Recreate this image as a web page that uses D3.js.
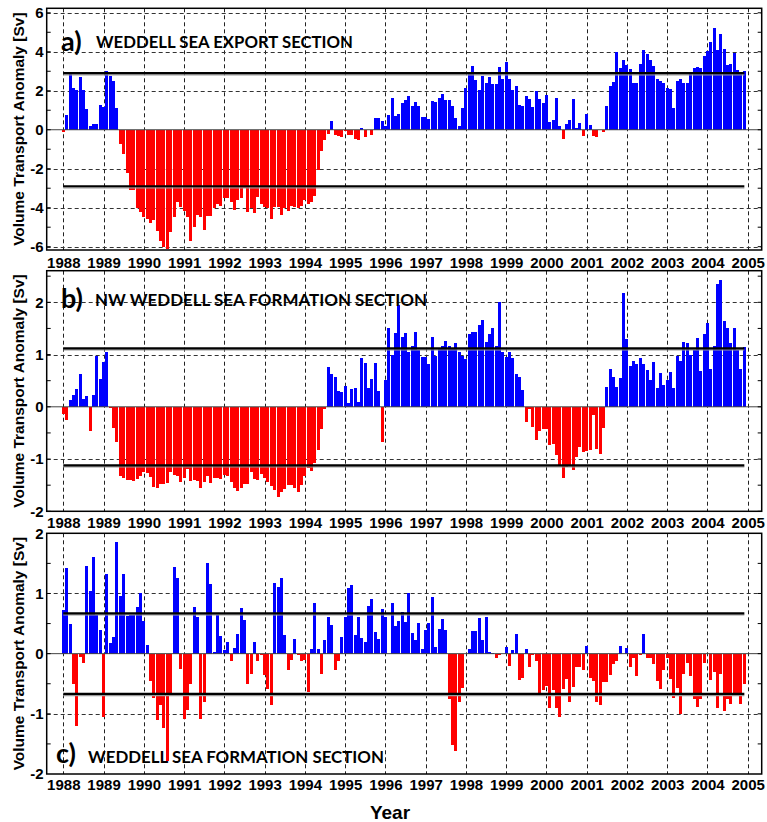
<!DOCTYPE html>
<html>
<head>
<meta charset="utf-8">
<script src="https://cdn.jsdelivr.net/npm/d3@7"></script>
<style>
  html, body { margin: 0; padding: 0; background: #fff; }
  svg { display: block; }
</style>
</head>
<body>
<div id="chart"></div>
<script>
// Monthly volume transport anomalies [Sv], January 1988 to December 2004
const startYear = 1988;

const exportSection = [
  -0.1, 0.75, 2.9, 2.15, 2.05, 2.7, 2.05, 1.05, 0.2, 0.3, 0.3, 1.25,
  1.15, 3.0, 2.75, 2.5, 1.1, -0.75, -1.25, -2.2, -3.1, -3.1, -4.0, -4.2,
  -4.5, -4.6, -4.8, -4.65, -5.2, -5.7, -6.0, -6.1, -5.25, -4.5, -3.7, -3.95,
  -4.15, -4.5, -5.7, -5.0, -4.35, -4.5, -5.15, -4.45, -4.45, -4.0, -3.8, -3.9,
  -3.5, -3.5, -3.7, -4.1, -3.6, -3.5, -3.0, -4.2, -4.0, -4.25, -3.45, -3.8,
  -3.95, -4.0, -4.6, -3.95, -3.95, -4.4, -4.0, -4.15, -3.9, -3.95, -4.0, -3.9,
  -3.6, -3.8, -3.7, -3.4, -2.05, -1.1, -0.55, -0.2, 0.45, -0.25, -0.3, -0.35,
  -0.05, -0.25, -0.25, -0.5, -0.55, 0.1, -0.35, 0.0, -0.25, 0.6, 0.58, 0.45,
  0.2, 0.75, 1.65, 0.7, 0.8, 1.35, 1.5, 1.75, 1.2, 1.4, 1.2, 0.63,
  0.63, 0.55, 1.45, 1.4, 1.65, 1.85, 1.5, 1.5, 1.2, 0.6, 0.2, 1.1,
  2.15, 2.85, 3.25, 2.55, 2.05, 2.75, 2.4, 2.7, 2.35, 2.35, 3.2, 2.6,
  3.45, 2.6, 2.05, 2.25, 1.25, 1.2, 1.75, 1.6, 1.15, 2.0, 1.6, 1.35,
  1.8, 0.38, 0.5, 1.65, 0.2, -0.45, 0.3, 0.5, 1.57, 0.08, 0.35, -0.3,
  0.8, 0.25, -0.3, -0.35, 0.0, -0.1, 1.2, 2.25, 2.45, 4.0, 3.15, 3.6,
  3.3, 3.1, 2.4, 2.4, 3.35, 4.1, 3.9, 3.6, 3.25, 2.6, 2.5, 2.4,
  2.15, 2.1, 1.1, 2.5, 2.6, 2.4, 2.4, 2.85, 3.15, 3.2, 3.15, 3.8,
  4.05, 4.5, 5.2, 4.1, 4.9, 4.15, 3.3, 3.35, 3.95, 3.05, 2.95, 3.0
];

const nwFormationSection = [
  -0.14, -0.25, 0.13, 0.22, 0.34, 0.63, 0.15, 0.21, -0.46, 0.23, 0.98, 0.53,
  0.86, 1.04, -0.02, -0.4, -0.67, -1.32, -1.37, -1.4, -1.4, -1.42, -1.38, -1.32,
  -1.24, -1.27, -1.35, -1.53, -1.56, -1.48, -1.48, -1.46, -1.25, -1.31, -1.33, -1.44,
  -1.37, -1.19, -1.42, -1.4, -1.42, -1.56, -1.44, -1.33, -1.46, -1.37, -1.37, -1.38,
  -1.3, -1.33, -1.43, -1.55, -1.62, -1.55, -1.48, -1.48, -1.25, -1.38, -1.4, -1.29,
  -1.37, -1.44, -1.51, -1.6, -1.73, -1.64, -1.57, -1.5, -1.49, -1.56, -1.64, -1.49,
  -1.32, -1.18, -1.23, -1.08, -0.82, -0.42, -0.04, 0.76, 0.63, 0.57, 0.31, 0.29,
  0.4, 0.07, 0.34, 0.36, 0.09, 0.93, 0.84, 0.36, 0.54, 0.84, 0.31, -0.67,
  0.51, 1.51, 1.0, 1.41, 1.95, 1.33, 1.41, 1.04, 1.17, 1.43, 1.08, 0.95,
  0.95, 0.82, 1.33, 0.98, 1.12, 1.16, 1.25, 1.16, 1.12, 1.22, 1.05, 0.98,
  0.92, 1.39, 1.44, 1.44, 1.56, 1.67, 1.24, 1.39, 1.51, 1.17, 2.0, 1.05,
  0.96, 1.05, 0.93, 0.63, 0.57, 0.32, -0.29, -0.04, -0.39, -0.63, -0.47, -0.43,
  -0.43, -0.74, -0.71, -0.92, -1.14, -1.37, -1.16, -1.14, -1.21, -0.96, -0.76, -0.86,
  -0.84, -0.83, -0.15, -0.8, -0.9, -0.41, 0.38, 0.72, 0.57, 0.38, 0.55, 2.18,
  1.3, 0.78, 0.87, 0.82, 0.93, 0.82, 0.7, 0.51, 0.86, 0.36, 0.64, 0.42,
  0.51, 0.66, 0.36, 0.97, 0.87, 1.24, 1.22, 1.0, 1.09, 1.32, 0.69, 1.39,
  1.6, 0.72, 1.17, 2.35, 2.43, 1.65, 1.51, 1.22, 1.51, 1.09, 0.72, 1.14
];

const formationSection = [
  0.73, 1.42, 0.49, -0.5, -1.2, -0.05, -0.15, 1.46, 1.04, 1.61, 0.64, 0.39,
  -1.05, 1.32, 0.18, 0.28, 1.86, 0.96, 1.32, 0.63, 0.64, 0.64, 0.78, 1.01,
  0.55, 0.14, -0.45, -0.73, -1.11, -0.85, -1.23, -1.78, -0.66, 1.44, 1.26, -0.25,
  -1.08, -0.93, -0.5, 0.78, 0.61, -1.08, -0.81, 1.51, 1.16, 0.03, 0.64, 0.29,
  0.06, 0.19, -0.12, 0.1, 0.33, 0.76, 0.56, -0.5, -0.34, 0.19, -0.13, -0.03,
  -0.35, -0.58, -0.85, 1.17, 1.11, 1.26, 0.31, -0.28, -0.1, 0.24, -0.03, -0.12,
  -0.1, -0.63, 0.08, 0.84, 0.07, -0.33, 0.22, 0.61, 0.48, -0.28, -0.13, 0.28,
  0.61, 1.09, 1.14, 0.31, 0.61, 0.26, 0.19, 0.79, 0.91, 0.36, 0.24, 0.74,
  0.61, -0.01, 0.84, 0.46, 0.54, 0.69, 0.53, 1.0, 0.34, 0.23, 0.51, 0.08,
  0.39, 0.51, 0.94, 0.11, 0.41, 0.58, 0.39, -0.76, -1.52, -1.62, -0.8, -0.57,
  0.0, 0.07, 0.38, 0.38, 0.59, 0.23, 0.61, 0.03, 0.01, -0.07, -0.03, 0.0,
  0.11, -0.2, 0.06, 0.33, -0.43, -0.4, 0.08, -0.23, -0.03, -0.12, -0.7, -0.61,
  -0.53, -0.9, -0.61, -0.9, -1.05, -0.58, -0.42, -0.8, -0.55, -0.22, -0.23, -0.27,
  0.12, -0.4, -0.45, -0.8, -0.85, -0.47, -0.47, -0.35, -0.18, -0.13, 0.13, -0.01,
  0.1, -0.23, -0.08, -0.37, -0.03, 0.33, -0.08, -0.08, -0.18, -0.45, -0.58, -0.28,
  -0.07, -0.42, -0.73, -0.57, -1.0, -0.33, -0.15, -0.37, -0.76, -0.88, -0.76, -0.15,
  0.0, -0.43, -0.3, -0.9, -0.33, -0.95, -0.76, -0.83, -0.65, -0.65, -0.83, -0.5
];

// Significance levels (± one standard deviation) for each section
const thresholds = [2.9, 1.12, 0.67];

const panelLetters = ["a)", "b)", "c)"];
const panelTitles = [
  "WEDDELL SEA EXPORT SECTION",
  "NW WEDDELL SEA FORMATION SECTION",
  "WEDDELL SEA FORMATION SECTION"
];

const yearTicks = d3.range(1988, 2006);
const yTickLabelsA = [6, 4, 2, 0, -2, -4, -6];
const yTickLabelsB = [2, 1, 0, -1, -2];
const yTickLabelsC = [2, 1, 0, -1, -2];
const yGridA = [6, 4, 2, -2, -4, -6];
const yGridB = [2, 1, -1];
const yGridC = [1, -1];
const yMinorA = d3.range(-6, 7, 1);
const yMinorB = d3.range(-2, 2.51, 0.5);
const yMinorC = d3.range(-1.5, 1.51, 0.5);

const axisTitle = "Volume Transport Anomaly [Sv]";

// ---- layout ----
const W = 767, H = 822;
const frameLeft = 46.7, frameRight = 761.7;
const labelFont = "'Liberation Sans', Arial, sans-serif";
const titleFont = "Lato, 'Open Sans', sans-serif";

const panels = [
  { data: exportSection, domain: [-6.17, 6.23], top: 8.3, bottom: 250,
    ticks: yTickLabelsA, grid: yGridA, minor: yMinorA,
    letter: { x: 61, y: 51 }, title: { x: 96, y: 47.5, len: 257 }, xPad: 7.3 },
  { data: nwFormationSection, domain: [-2, 2.605], top: 270.7, bottom: 511.3,
    ticks: yTickLabelsB, grid: yGridB, minor: yMinorB,
    letter: { x: 61, y: 307.5 }, title: { x: 95, y: 306, len: 332 }, xPad: 6.5 },
  { data: formationSection, domain: [-2, 2], top: 533.3, bottom: 774,
    ticks: yTickLabelsC, grid: yGridC, minor: yMinorC,
    letter: { x: 56, y: 762.5 }, title: { x: 88, y: 762.5, len: 296 }, xPad: 5.5 }
];

const x = d3.scaleLinear().domain([1988, 2005]).range([63.3, 747.7]);
const monthWidth = x(1988 + 1 / 12) - x(1988);
const barWidth = 3.0;

const svg = d3.select("#chart").append("svg")
  .attr("width", W).attr("height", H)
  .attr("viewBox", `0 0 ${W} ${H}`);

svg.append("rect").attr("width", W).attr("height", H).attr("fill", "#fff");

panels.forEach((p, k) => {
  const y = d3.scaleLinear().domain(p.domain).range([p.bottom, p.top]);
  const g = svg.append("g");
  const series = p.data.map((v, i) => ({ t: startYear + i / 12, v }));

  // dashed grid
  g.append("g").selectAll("line").data(yearTicks).join("line")
    .attr("x1", d => Math.round(x(d)) + 0.5).attr("x2", d => Math.round(x(d)) + 0.5)
    .attr("y1", p.top).attr("y2", p.bottom)
    .attr("stroke", "#222").attr("stroke-width", 1)
    .attr("stroke-dasharray", "4,3");
  g.append("g").selectAll("line").data(p.grid).join("line")
    .attr("x1", frameLeft).attr("x2", frameRight)
    .attr("y1", d => Math.round(y(d)) + 0.5).attr("y2", d => Math.round(y(d)) + 0.5)
    .attr("stroke", "#333").attr("stroke-width", 1)
    .attr("stroke-dasharray", "4,3");

  // monthly bars
  g.append("g").selectAll("rect").data(series).join("rect")
    .attr("x", d => x(d.t) - barWidth / 2)
    .attr("width", barWidth)
    .attr("y", d => y(Math.max(0, d.v)))
    .attr("height", d => Math.abs(y(d.v) - y(0)))
    .attr("fill", d => d.v >= 0 ? "#0000ff" : "#ff0000")
    .attr("shape-rendering", "crispEdges");

  // zero line
  g.append("line")
    .attr("x1", frameLeft).attr("x2", frameRight)
    .attr("y1", y(0)).attr("y2", y(0))
    .attr("stroke", "#444").attr("stroke-width", 1);

  // ± threshold lines
  const tStart = x(startYear), tEnd = x(startYear + (p.data.length - 1) / 12);
  const th = thresholds[k];
  [th, -th].forEach(v => {
    g.append("line")
      .attr("x1", tStart).attr("x2", tEnd)
      .attr("y1", y(v) + 1.6).attr("y2", y(v) + 1.6)
      .attr("stroke", "#9a9a9a").attr("stroke-width", 1.2);
    g.append("line")
      .attr("x1", tStart).attr("x2", tEnd)
      .attr("y1", y(v)).attr("y2", y(v))
      .attr("stroke", "#000").attr("stroke-width", 2.2);
  });

  // frame
  g.append("rect")
    .attr("x", frameLeft).attr("y", p.top)
    .attr("width", frameRight - frameLeft).attr("height", p.bottom - p.top)
    .attr("fill", "none").attr("stroke", "#000").attr("stroke-width", 1.5);

  // inward ticks on both sides
  g.append("g").selectAll("line").data(p.minor).join("line")
    .attr("x1", frameLeft).attr("x2", frameLeft + 4)
    .attr("y1", d => y(d)).attr("y2", d => y(d))
    .attr("stroke", "#000").attr("stroke-width", 1);
  g.append("g").selectAll("line").data(p.minor).join("line")
    .attr("x1", frameRight - 4).attr("x2", frameRight)
    .attr("y1", d => y(d)).attr("y2", d => y(d))
    .attr("stroke", "#000").attr("stroke-width", 1);

  // y tick labels
  const yAxis = g.append("g")
    .attr("transform", `translate(${frameLeft},0)`)
    .call(d3.axisLeft(y).tickValues(p.ticks).tickSize(0).tickPadding(3)
      .tickFormat(d => String(d)));
  yAxis.select(".domain").remove();
  yAxis.selectAll("text")
    .attr("font-family", labelFont).attr("font-weight", "bold")
    .attr("font-size", "15px").attr("fill", "#000");

  // year labels
  const xAxis = g.append("g")
    .attr("transform", `translate(0,${p.bottom})`)
    .call(d3.axisBottom(x).tickValues(yearTicks).tickSize(0).tickPadding(p.xPad)
      .tickFormat(d3.format("d")));
  xAxis.select(".domain").remove();
  xAxis.selectAll("text")
    .attr("font-family", labelFont).attr("font-weight", "bold")
    .attr("font-size", "15px").attr("fill", "#000");

  // vertical axis title
  const cy = (p.top + p.bottom) / 2;
  g.append("text")
    .attr("transform", `translate(18.5,${cy}) rotate(-90)`)
    .attr("text-anchor", "middle").attr("dy", "0.36em")
    .attr("font-family", labelFont).attr("font-weight", "bold")
    .attr("font-size", "15.5px").attr("fill", "#000")
    .text(axisTitle);

  // panel letter and title
  g.append("text")
    .attr("x", p.letter.x).attr("y", p.letter.y)
    .attr("font-family", titleFont).attr("font-weight", "bold")
    .attr("font-size", "27px").attr("fill", "#000")
    .text(panelLetters[k]);
  g.append("text")
    .attr("x", p.title.x).attr("y", p.title.y)
    .attr("font-family", titleFont).attr("font-weight", "bold")
    .attr("font-size", "17px").attr("fill", "#000")
    .attr("textLength", p.title.len).attr("lengthAdjust", "spacingAndGlyphs")
    .text(panelTitles[k]);
});

svg.append("text")
  .attr("x", 390).attr("y", 819)
  .attr("text-anchor", "middle")
  .attr("font-family", labelFont).attr("font-weight", "bold")
  .attr("font-size", "19px").attr("fill", "#000")
  .text("Year");
</script>
</body>
</html>
